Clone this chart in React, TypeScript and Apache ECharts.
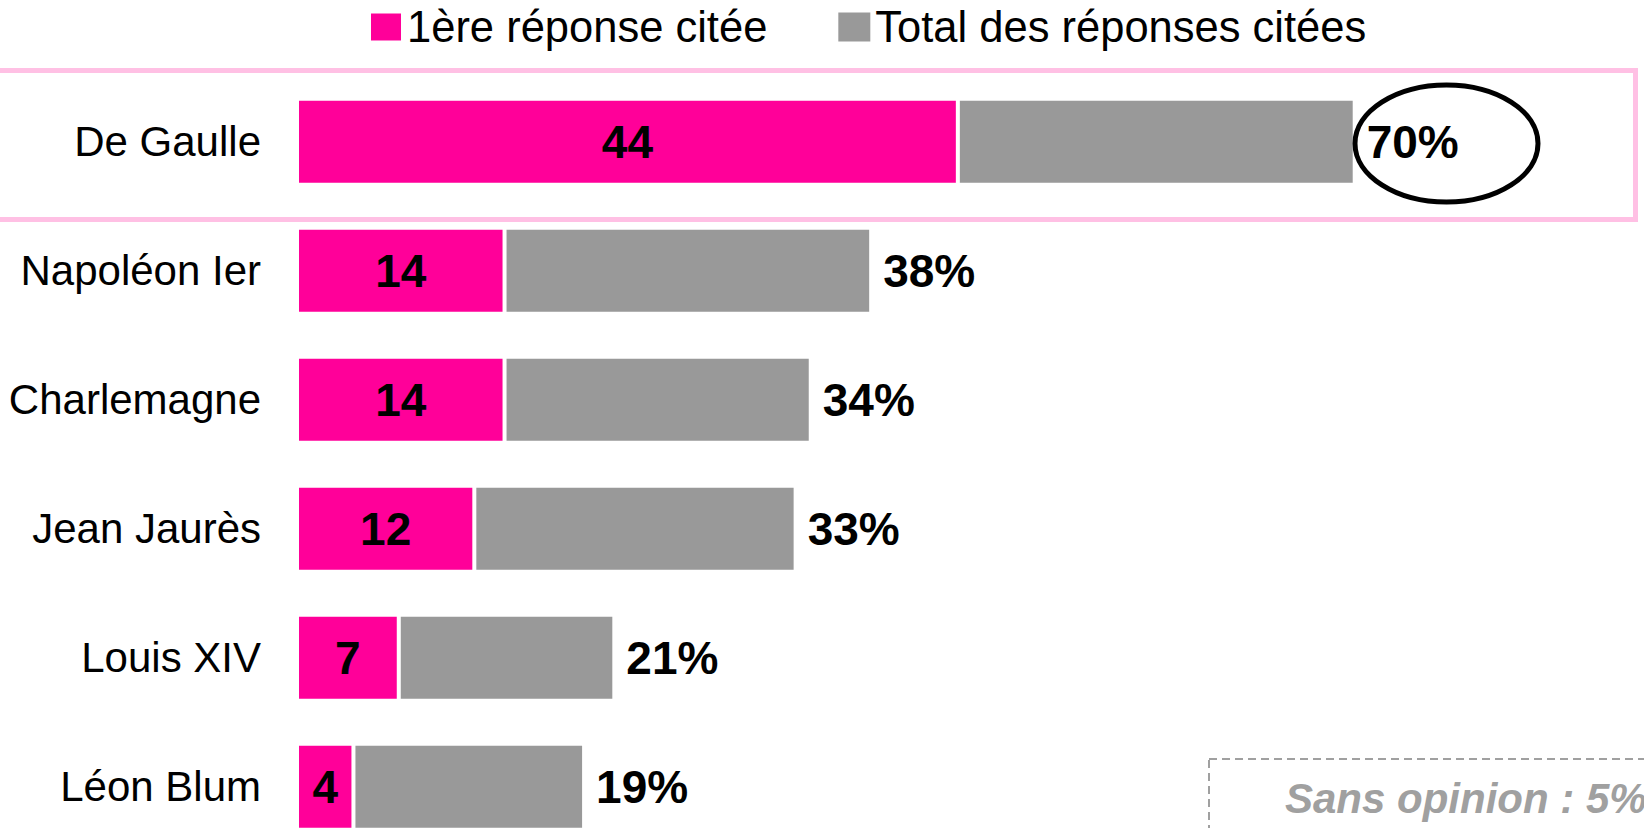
import React, { useEffect, useRef } from "react";
import * as echarts from "echarts";

const categories = ["De Gaulle", "Napoléon Ier", "Charlemagne", "Jean Jaurès", "Louis XIV", "Léon Blum"];
const firstCited = [44, 14, 14, 12, 7, 4];
const totalCited = [70, 38, 34, 33, 21, 19];
const seriesNames = ["1ère réponse citée", "Total des réponses citées"];
const noOpinionText = "Sans opinion : 5%";

const PINK = "#FF0099";
const GRAY = "#999999";
const FONT = "'Liberation Sans', Arial, Helvetica, sans-serif";

export default function App() {
  const ref = useRef<HTMLDivElement>(null);

  useEffect(() => {
    if (!ref.current) return;
    const chart = echarts.init(ref.current, null, { renderer: "svg" });
    chart.setOption({
      animation: false,
      backgroundColor: "#ffffff",
      textStyle: { fontFamily: FONT },
      legend: {
        data: [seriesNames[0], seriesNames[1]],
        left: 364,
        top: 0,
        icon: "rect",
        itemWidth: 32,
        itemHeight: 29,
        itemGap: 71,
        textStyle: { fontSize: 43.5, color: "#000", fontFamily: FONT },
        selectedMode: false,
      },
      grid: { left: 295, top: 77.2, width: 1511, height: 774, containLabel: false },
      xAxis: {
        type: "value",
        min: 0,
        max: 100,
        show: false,
        splitLine: { show: false },
      },
      yAxis: [
        {
          type: "category",
          data: categories,
          inverse: true,
          axisLine: { show: false },
          axisTick: { show: false },
          axisLabel: { fontSize: 42, color: "#000", margin: 34, fontFamily: FONT },
        },
        {
          type: "category",
          data: categories,
          inverse: true,
          show: false,
        },
      ],
      series: [
        {
          name: seriesNames[1],
          type: "bar",
          data: totalCited,
          yAxisIndex: 0,
          barWidth: 82,
          itemStyle: { color: GRAY },
          z: 2,
          label: {
            show: true,
            position: "right",
            distance: 14,
            formatter: "{c}%",
            fontSize: 46,
            fontWeight: "bold",
            color: "#000",
            fontFamily: FONT,
          },
        },
        {
          name: seriesNames[0],
          type: "bar",
          data: firstCited,
          yAxisIndex: 1,
          barWidth: 90,
          itemStyle: { color: PINK, borderColor: "#ffffff", borderWidth: 4 },
          z: 3,
          label: {
            show: true,
            position: "inside",
            fontSize: 46,
            fontWeight: "bold",
            color: "#000",
            fontFamily: FONT,
          },
        },
      ],
      graphic: [
        {
          type: "rect",
          shape: { x: -10, y: 70.5, width: 1645.5, height: 149 },
          style: { fill: "none", stroke: "#FFC0E4", lineWidth: 5 },
          z: 1,
        },
        {
          type: "ellipse",
          shape: { cx: 1446.5, cy: 143.5, rx: 91.5, ry: 58.5 },
          style: { fill: "none", stroke: "#000", lineWidth: 5 },
          z: 10,
        },
        {
          type: "rect",
          shape: { x: 1209, y: 759, width: 500, height: 200 },
          style: { fill: "none", stroke: "#A0A0A0", lineWidth: 2, lineDash: [8, 5] },
          z: 5,
        },
        {
          type: "text",
          x: 1285,
          y: 798,
          style: {
            text: noOpinionText,
            fontSize: 42,
            fontWeight: "bold",
            fontStyle: "italic",
            fill: "#A0A0A0",
            fontFamily: FONT,
            verticalAlign: "middle",
            align: "left",
          },
          z: 6,
        },
      ],
    });
    return () => chart.dispose();
  }, []);

  return (
    <div
      style={{
        position: "absolute",
        left: 0,
        top: 0,
        width: 1644,
        height: 828,
        overflow: "hidden",
        background: "#fff",
      }}
    >
      <div ref={ref} style={{ width: 1900, height: 1000 }} />
    </div>
  );
}
